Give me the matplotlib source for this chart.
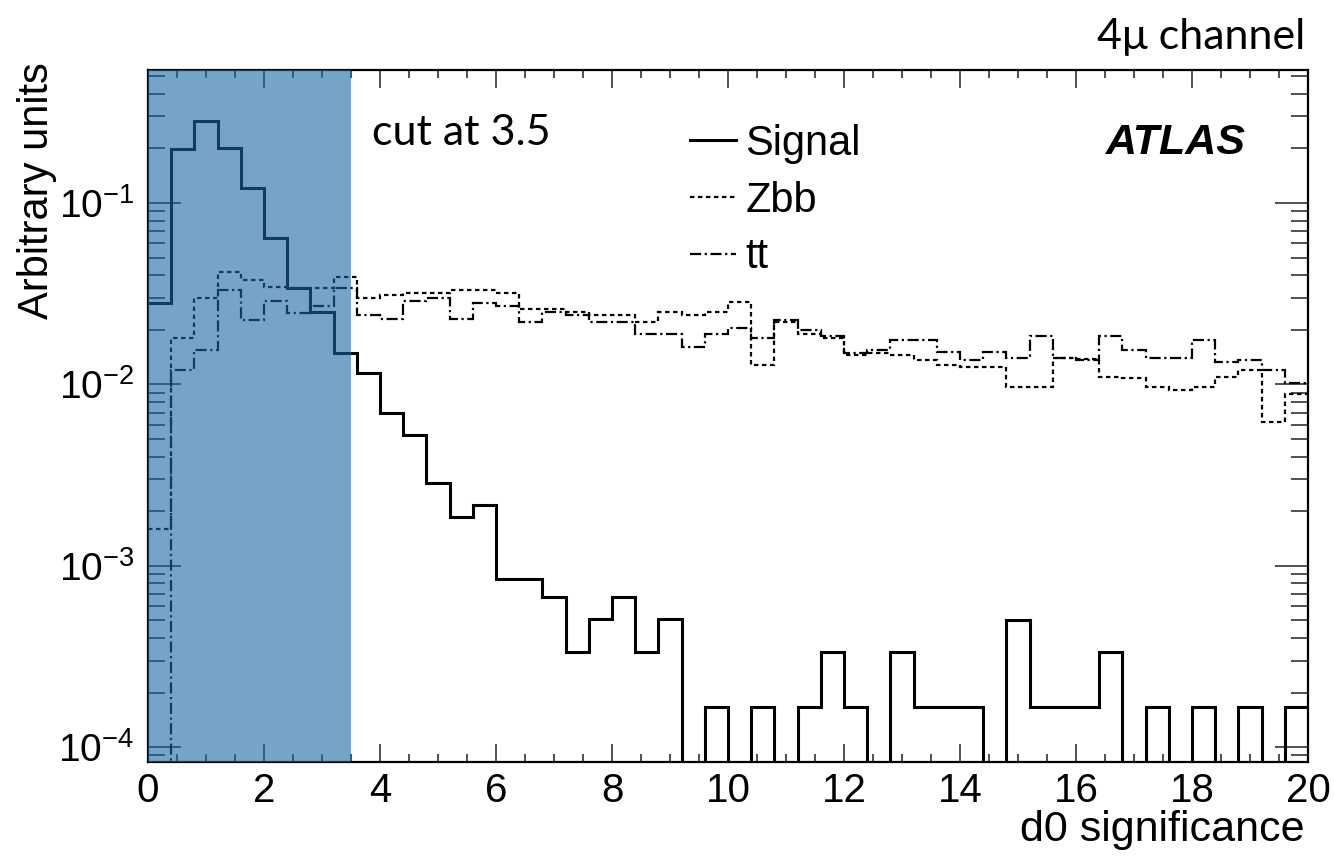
import matplotlib
matplotlib.use("Agg")
import matplotlib.pyplot as plt
import numpy as np
from matplotlib.ticker import MultipleLocator, LogLocator, NullFormatter
from matplotlib.lines import Line2D

# 50 bins of width 0.4 between 0 and 20
bin_lo = 0.0
bin_hi = 20.0
n_bins = 50

signal = [0.028, 0.199, 0.283, 0.200, 0.121, 0.064, 0.034, 0.025, 0.0149, 0.0115,
          0.00695, 0.00525, 0.00286, 0.00185, 0.00216, 0.000844, 0.000844, 0.000671, 0.000334, 0.000507,
          0.000671, 0.000334, 0.000507, 0.0, 0.000166, 0.0, 0.000166, 0.0, 0.000166, 0.000334,
          0.000166, 0.0, 0.000334, 0.000166, 0.000166, 0.000166, 0.0, 0.000501, 0.000166, 0.000166,
          0.000166, 0.000334, 0.0, 0.000166, 0.0, 0.000166, 0.0, 0.000166, 0.0, 0.000166]

zbb = [0.0016, 0.018, 0.030, 0.0416, 0.0376, 0.0345, 0.034, 0.034, 0.039, 0.030,
       0.031, 0.032, 0.032, 0.033, 0.033, 0.032, 0.026, 0.026, 0.025, 0.024,
       0.024, 0.022, 0.025, 0.024, 0.025, 0.0285, 0.0128, 0.022, 0.019, 0.018,
       0.0145, 0.0149, 0.0145, 0.0136, 0.0128, 0.0125, 0.0125, 0.0097, 0.0097, 0.014,
       0.0138, 0.011, 0.0108, 0.0097, 0.0093, 0.0097, 0.011, 0.012, 0.0062, 0.0089]

tt = [0.0, 0.012, 0.0155, 0.033, 0.0227, 0.029, 0.0247, 0.027, 0.034, 0.024,
      0.023, 0.029, 0.030, 0.023, 0.028, 0.027, 0.022, 0.025, 0.024, 0.022,
      0.022, 0.019, 0.019, 0.016, 0.019, 0.0205, 0.018, 0.0227, 0.020, 0.0185,
      0.0149, 0.0155, 0.0176, 0.0176, 0.015, 0.0136, 0.015, 0.014, 0.0185, 0.014,
      0.0136, 0.0185, 0.0155, 0.014, 0.014, 0.0176, 0.0133, 0.0136, 0.0120, 0.0102]

cut = 3.5

edges = np.linspace(bin_lo, bin_hi, n_bins + 1)

plt.rcParams['font.family'] = ['Liberation Sans', 'DejaVu Sans']
plt.rcParams['mathtext.fontset'] = 'custom'
plt.rcParams['mathtext.rm'] = 'Liberation Sans'

fig = plt.figure(figsize=(13.34, 8.56), dpi=100)
ax = fig.add_axes([0.111, 0.110, 0.8695, 0.808])

ax.stairs(signal, edges, baseline=None, color='black', linewidth=2.2, zorder=3)
ax.stairs(zbb, edges, baseline=None, color='black', linewidth=1.6,
          linestyle=(0, (2.0, 1.6)), zorder=3)
ax.stairs(tt, edges, baseline=None, color='black', linewidth=1.6,
          linestyle=(0, (5.0, 1.6, 1.0, 1.6)), zorder=3)

ax.axvspan(bin_lo, cut, color='#1967a2', alpha=0.6, linewidth=0, zorder=5)

ax.set_yscale('log')
ax.set_xlim(bin_lo, bin_hi)
ax.set_ylim(8.3e-5, 0.54)

ax.xaxis.set_major_locator(MultipleLocator(2))
ax.xaxis.set_minor_locator(MultipleLocator(0.5))
ax.yaxis.set_major_locator(LogLocator(base=10, numticks=10))
ax.yaxis.set_minor_locator(LogLocator(base=10, subs=np.arange(2, 10), numticks=10))
ax.yaxis.set_minor_formatter(NullFormatter())

ax.tick_params(which='both', direction='in', top=True, right=True, width=1.2, color='#333333')
ax.tick_params(axis='x', which='major', length=13, labelsize=29, pad=7)
ax.tick_params(axis='x', which='minor', length=6)
ax.tick_params(axis='y', which='major', length=24, labelsize=28, pad=10)
ax.tick_params(axis='y', which='minor', length=12)
for sp in ax.spines.values():
    sp.set_linewidth(1.6)

fig.text(37 / 1334, 1 - 62 / 856, 'Arbitrary units', rotation=90, ha='center', va='top', fontsize=30)
fig.text(1305 / 1334, 1 - 830 / 856, 'd0 significance', ha='right', va='center', fontsize=31)

fig.text(1305 / 1334, 1 - 37 / 856, '4μ channel', ha='right', va='center', fontsize=31,
         family=['Lato', 'DejaVu Sans'])
fig.text(372 / 1334, 1 - 133 / 856, 'cut at 3.5', ha='left', va='center', fontsize=31,
         family=['Lato', 'DejaVu Sans'])
fig.text(1246 / 1334, 1 - 143 / 856, 'ATLAS', ha='right', va='center', fontsize=31,
         weight='bold', style='italic')

handles = [
    Line2D([], [], color='black', linewidth=2.2),
    Line2D([], [], color='black', linewidth=1.6, linestyle=(0, (2.0, 1.6))),
    Line2D([], [], color='black', linewidth=1.6, linestyle=(0, (5.0, 1.6, 1.0, 1.6))),
]
ax.legend(handles, ['Signal', 'Zbb', 'tt'], loc='upper left',
          bbox_to_anchor=(690 / 1334, 1 - 124 / 856), bbox_transform=fig.transFigure,
          frameon=False, fontsize=30, handlelength=1.1, handletextpad=0.23,
          labelspacing=0.4, borderpad=0, borderaxespad=0)

fig.savefig('out.png', dpi=100)
